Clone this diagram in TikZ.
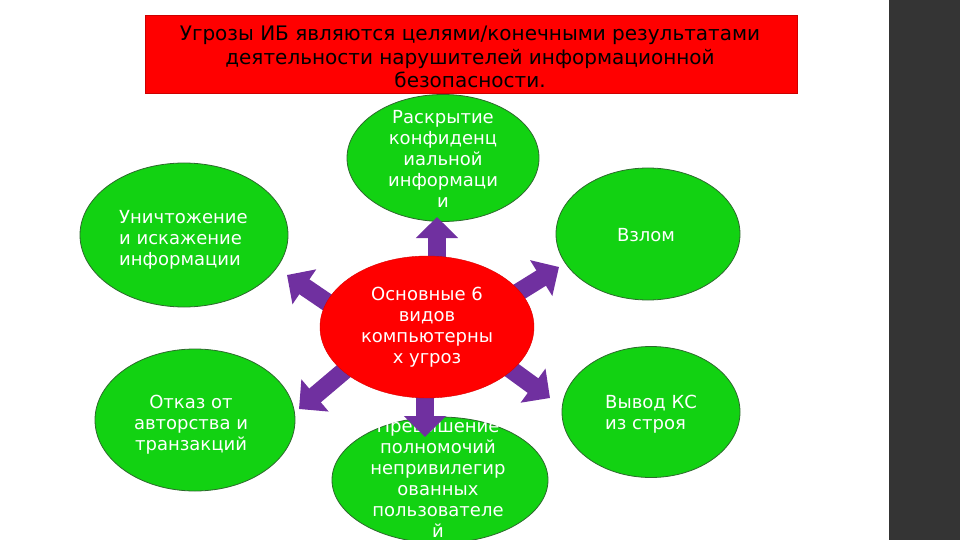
\documentclass[tikz,border=0pt]{standalone}
\usepackage{fontspec}
\setmainfont{DejaVu Sans}
\usetikzlibrary{arrows.meta,shapes.geometric}
\definecolor{threatred}{RGB}{255,0,0}
\definecolor{goalgreen}{RGB}{18,210,18}
\definecolor{edgegreen}{RGB}{45,105,45}
\definecolor{arrpurple}{RGB}{112,48,160}
\definecolor{sidebar}{RGB}{52,52,52}
\pgfdeclarelayer{back}\pgfdeclarelayer{mid}\pgfsetlayers{back,mid,main}

\begin{document}
\begin{tikzpicture}[x=1pt,y=-1pt,goal/.style={ellipse,draw=edgegreen,fill=goalgreen,line width=0.8pt,inner sep=0pt},txt/.style={text=white,align=center,inner sep=0pt,font=\fontsize{18}{21}\selectfont},arr/.style={-{Triangle[width=41pt,length=21pt]},line width=18pt,draw=arrpurple,shorten <=-6pt}]
\useasboundingbox (0,0) rectangle (960,540);
\fill[sidebar] (889,0) rectangle (960,540);
\node[draw=red!80!black,fill=threatred,minimum width=652pt,minimum height=78pt,inner sep=0pt] (head) at (471,54) {};
\node[align=center,inner sep=0pt,font=\fontsize{20}{23.5}\selectfont] (head-t) at (470,57) {Угрозы ИБ являются целями/конечными результатами\\деятельности нарушителей информационной\\безопасности.};
\begin{pgfonlayer}{back}
\node[goal,minimum width=192pt,minimum height=127pt] (leak) at (443,158) {};
\node[txt] (leak-t) at (443,159) {Раскрытие\\конфиденц\\иальной\\информаци\\и};
\node[goal,minimum width=208pt,minimum height=144pt] (destroy) at (184,235) {};
\node[txt,anchor=west,align=left] (destroy-t) at (119,240) {Уничтожение\\и искажение\\информации};
\node[goal,minimum width=184pt,minimum height=132pt] (hack) at (648,234) {};
\node[txt] (hack-t) at (646,235) {Взлом};
\node[goal,minimum width=200pt,minimum height=142pt] (deny) at (195,420) {};
\node[txt] (deny-t) at (191,425) {Отказ от\\авторства и\\транзакций};
\node[goal,minimum width=178pt,minimum height=131pt] (down) at (651,412) {};
\node[txt,anchor=west,align=left] (down-t) at (605,414) {Вывод КС\\из строя};
\node[goal,minimum width=216pt,minimum height=126pt] (priv) at (440,480) {};
\node[txt] (priv-t) at (438,478) {Превышение\\полномочий\\непривилегир\\ованных\\пользователе\\й};
\end{pgfonlayer}
\node[ellipse,draw=red!85!black,fill=threatred,minimum width=214pt,minimum height=142pt,inner sep=0pt,text=white,align=center,font=\fontsize{18}{21}\selectfont] (ctr) at (427,327) {Основные 6\\видов\\компьютерны\\х угроз};
\coordinate (tU) at (437,217);
\coordinate (tUL) at (287,275);
\coordinate (tUR) at (559,267);
\coordinate (tLL) at (299,409);
\coordinate (tLR) at (550,398);
\coordinate (tD) at (425,437);
\begin{pgfonlayer}{mid}
\draw[arr] (tU |- ctr.north) -- (tU);\draw[arr] (ctr.166) -- (tUL);\draw[arr] (ctr.21) -- (tUR);\draw[arr] (ctr.208) -- (tLL);\draw[arr] (ctr.333) -- (tLR);\draw[arr] (tD |- ctr.south) -- (tD);
\end{pgfonlayer}
\end{tikzpicture}
\end{document}
